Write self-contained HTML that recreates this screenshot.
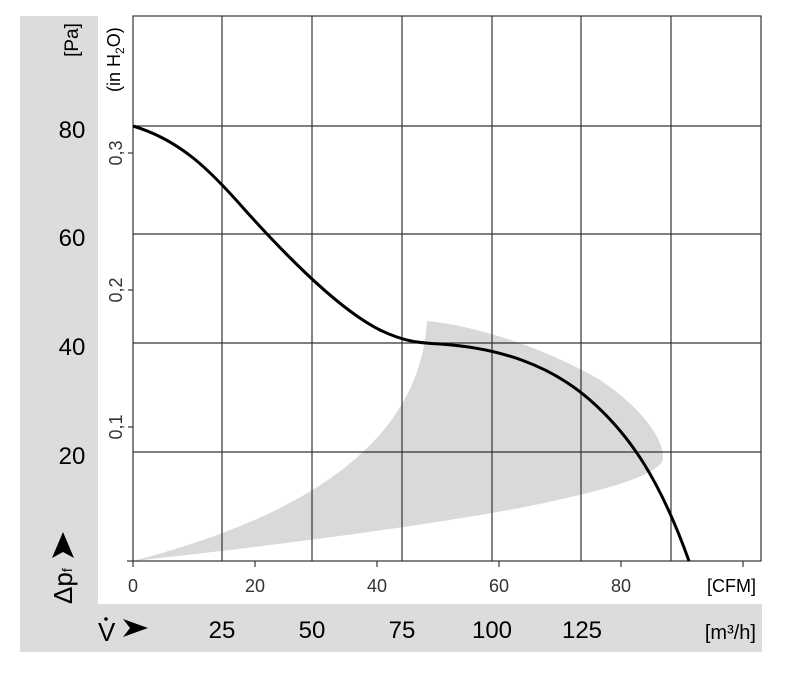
<!DOCTYPE html>
<html><head><meta charset="utf-8"><style>
html,body{margin:0;padding:0;background:#fff;}
svg{display:block;font-family:"Liberation Sans",sans-serif;}
</style></head><body>
<svg width="800" height="686" viewBox="0 0 800 686">
<rect x="20" y="16" width="78" height="636" fill="#dcdcdc"/>
<rect x="20" y="604" width="742" height="48" fill="#dcdcdc"/>
<!-- gray region -->
<path d="M133,561 C250,548 400,530 520,508 C600,492 650,478 662,462 C668,445 645,410 600,380 C540,345 470,325 427,321 C420,440 310,515 133,561 Z" fill="#d9d9d9"/>
<!-- grid -->
<g stroke="#333" stroke-width="1.2" fill="none">
<rect x="133" y="16" width="628" height="545"/>
<line x1="222" y1="16" x2="222" y2="561"/>
<line x1="312" y1="16" x2="312" y2="561"/>
<line x1="402" y1="16" x2="402" y2="561"/>
<line x1="492" y1="16" x2="492" y2="561"/>
<line x1="581" y1="16" x2="581" y2="561"/>
<line x1="671" y1="16" x2="671" y2="561"/>
<line x1="133" y1="126" x2="761" y2="126"/>
<line x1="133" y1="234" x2="761" y2="234"/>
<line x1="133" y1="343" x2="761" y2="343"/>
<line x1="133" y1="452" x2="761" y2="452"/>
<line x1="127" y1="561" x2="133" y2="561"/>
<line x1="133" y1="561" x2="133" y2="567"/>
<line x1="255" y1="561" x2="255" y2="567"/>
<line x1="377" y1="561" x2="377" y2="567"/>
<line x1="499" y1="561" x2="499" y2="567"/>
<line x1="621" y1="561" x2="621" y2="567"/>
<line x1="743" y1="561" x2="743" y2="567"/>
<line x1="128" y1="153" x2="133" y2="153"/>
<line x1="128" y1="290" x2="133" y2="290"/>
<line x1="128" y1="427" x2="133" y2="427"/>
</g>
<!-- curve -->
<path d="M133,126 C180,140 210,170 245,210 C290,260 340,310 380,330 C405,342 420,343 440,344 C500,348 550,365 590,400 C630,435 660,480 689,561" stroke="#000" stroke-width="3" fill="none"/>
<!-- labels -->
<g font-size="24" fill="#000" text-anchor="middle">
<text x="72" y="138">80</text>
<text x="72" y="246">60</text>
<text x="72" y="355">40</text>
<text x="72" y="464">20</text>
<text x="222" y="638">25</text>
<text x="312" y="638">50</text>
<text x="402" y="638">75</text>
<text x="492" y="638">100</text>
<text x="582" y="638">125</text>
</g>
<text font-size="19" text-anchor="middle" transform="translate(78,40) rotate(-90)">[Pa]</text>
<text x="0" y="0" font-size="18" transform="translate(120,92) rotate(-90)">(in H<tspan font-size="12" dy="4">2</tspan><tspan dy="-4">O)</tspan></text>
<g font-size="18" fill="#333" text-anchor="middle">
<text transform="translate(122,153) rotate(-90)">0,3</text>
<text transform="translate(122,290) rotate(-90)">0,2</text>
<text transform="translate(122,427) rotate(-90)">0,1</text>
<text x="133" y="592">0</text>
<text x="255" y="592">20</text>
<text x="377" y="592">40</text>
<text x="499" y="592">60</text>
<text x="621" y="592">80</text>
</g>
<text x="756" y="592" font-size="18" text-anchor="end">[CFM]</text>
<text x="756" y="639" font-size="20" text-anchor="end">[m³/h]</text>
<text transform="translate(72,604) rotate(-90)" font-size="26">Δp<tspan font-size="14">f</tspan></text>
<path d="M63,532 L74,558 L63,552 L52,558 Z" fill="#000"/>
<text x="98" y="641" font-size="26">V</text>
<circle cx="106" cy="619" r="1.8" fill="#000"/>
<path d="M123,619 L148,628 L123,637 L130,628 Z" fill="#000"/>
</svg>
</body></html>
